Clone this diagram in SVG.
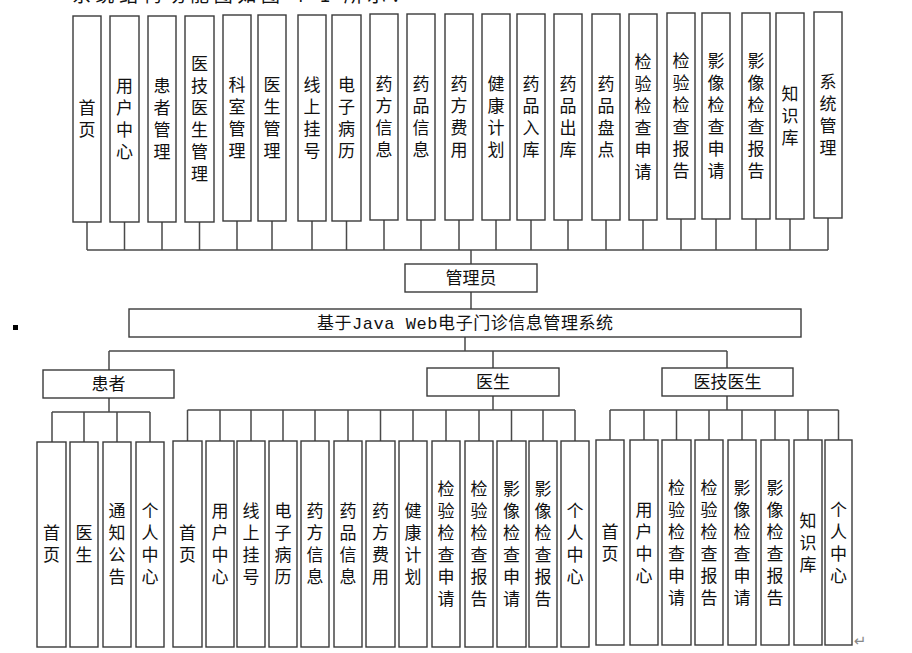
<svg xmlns="http://www.w3.org/2000/svg" width="912" height="653" viewBox="0 0 912 653">
<style>
.b{fill:#fff;stroke:#3a3a3a;stroke-width:1.4}
.c{fill:none;stroke:#4a4a4a;stroke-width:1.5}
.v{font-family:"Noto Sans CJK SC","Noto Sans",sans-serif;font-size:17px;fill:#111;text-anchor:middle}
.h{font-family:"Noto Sans CJK SC","Noto Sans",sans-serif;font-size:17px;fill:#111;text-anchor:middle}
</style>
<rect width="912" height="653" fill="#fff"/>
<text x="72" y="2" font-family="'Noto Sans CJK SC',sans-serif" font-size="19" fill="#111" textLength="338" lengthAdjust="spacing">系统结构功能图如图 4-1 所示：</text>
<rect x="13" y="325" width="5" height="5" fill="#000"/>
<text x="860" y="646" font-family="'DejaVu Sans',sans-serif" font-size="15" fill="#888" text-anchor="middle">↵</text>

<g id="connectors">
<path class="c" d="M87 222V250M124.5 222V250M162 222V250M199.5 222V250M237 221V250M272 221V250M312 221V250M346.5 221V250M384 220V250M421 220V250M459 220V250M496 220V250M531 220V250M568 220V250M606 220V250M643 220V250M681 219V250M716 219V250M756 219V250M790 219V250M828 218V250"/>
<path class="c" d="M87 250H828M471 250V264M471 292V309M465 337V351M109 351H727M109 351V370M493 351V368M727 351V368"/>
<path class="c" d="M109 398V412M52 412H150M52 412V442M84 412V442M117 412V442M150 412V442"/>
<path class="c" d="M493 396V410M187.5 410H575M187.5 410V441M220 410V441M251 410V441M283 410V441M315 410V441M348 410V441M380.5 410V441M413 410V441M446 410V441M479 410V441M511.5 410V441M543 410V441M575 410V441"/>
<path class="c" d="M727 396V410M610 410H838.5M610 410V440M644 410V440M676.5 410V440M709 410V440M742 410V440M775 410V440M808 410V440M838.5 410V440"/>
</g>

<g id="admin"><rect class="b" x="405" y="264" width="132" height="28"/><text class="h" x="471" y="284">管理员</text></g>
<g id="system"><rect class="b" x="129" y="309" width="672" height="28"/><text class="h" x="465" y="329" textLength="296" lengthAdjust="spacing">基于<tspan font-family="'Liberation Mono',monospace">Java Web</tspan>电子门诊信息管理系统</text></g>
<g id="patient"><rect class="b" x="43" y="370" width="131" height="28"/><text class="h" x="108.5" y="390">患者</text></g>
<g id="doctor"><rect class="b" x="427" y="368" width="132" height="28"/><text class="h" x="493" y="388">医生</text></g>
<g id="techdoctor"><rect class="b" x="662" y="368" width="131" height="28"/><text class="h" x="727.5" y="388">医技医生</text></g>

<!-- top row: admin functions -->
<g id="a1"><rect class="b" x="73" y="16" width="28" height="206"/><text class="v" x="87" y="114">首<tspan x="87" dy="22">页</tspan></text></g>
<g id="a2"><rect class="b" x="110" y="16" width="29" height="206"/><text class="v" x="124.5" y="92">用<tspan x="124.5" dy="22">户</tspan><tspan x="124.5" dy="22">中</tspan><tspan x="124.5" dy="22">心</tspan></text></g>
<g id="a3"><rect class="b" x="148" y="16" width="28" height="206"/><text class="v" x="162" y="92">患<tspan x="162" dy="22">者</tspan><tspan x="162" dy="22">管</tspan><tspan x="162" dy="22">理</tspan></text></g>
<g id="a4"><rect class="b" x="185" y="16" width="29" height="206"/><text class="v" x="199.5" y="70">医<tspan x="199.5" dy="22">技</tspan><tspan x="199.5" dy="22">医</tspan><tspan x="199.5" dy="22">生</tspan><tspan x="199.5" dy="22">管</tspan><tspan x="199.5" dy="22">理</tspan></text></g>
<g id="a5"><rect class="b" x="223" y="15" width="28" height="206"/><text class="v" x="237" y="91">科<tspan x="237" dy="22">室</tspan><tspan x="237" dy="22">管</tspan><tspan x="237" dy="22">理</tspan></text></g>
<g id="a6"><rect class="b" x="258" y="15" width="28" height="206"/><text class="v" x="272" y="91">医<tspan x="272" dy="22">生</tspan><tspan x="272" dy="22">管</tspan><tspan x="272" dy="22">理</tspan></text></g>
<g id="a7"><rect class="b" x="298" y="15" width="28" height="206"/><text class="v" x="312" y="91">线<tspan x="312" dy="22">上</tspan><tspan x="312" dy="22">挂</tspan><tspan x="312" dy="22">号</tspan></text></g>
<g id="a8"><rect class="b" x="332" y="15" width="29" height="206"/><text class="v" x="346.5" y="91">电<tspan x="346.5" dy="22">子</tspan><tspan x="346.5" dy="22">病</tspan><tspan x="346.5" dy="22">历</tspan></text></g>
<g id="a9"><rect class="b" x="370" y="14" width="28" height="206"/><text class="v" x="384" y="90">药<tspan x="384" dy="22">方</tspan><tspan x="384" dy="22">信</tspan><tspan x="384" dy="22">息</tspan></text></g>
<g id="a10"><rect class="b" x="407" y="14" width="28" height="206"/><text class="v" x="421" y="90">药<tspan x="421" dy="22">品</tspan><tspan x="421" dy="22">信</tspan><tspan x="421" dy="22">息</tspan></text></g>
<g id="a11"><rect class="b" x="445" y="14" width="28" height="206"/><text class="v" x="459" y="90">药<tspan x="459" dy="22">方</tspan><tspan x="459" dy="22">费</tspan><tspan x="459" dy="22">用</tspan></text></g>
<g id="a12"><rect class="b" x="482" y="14" width="28" height="206"/><text class="v" x="496" y="90">健<tspan x="496" dy="22">康</tspan><tspan x="496" dy="22">计</tspan><tspan x="496" dy="22">划</tspan></text></g>
<g id="a13"><rect class="b" x="517" y="14" width="28" height="206"/><text class="v" x="531" y="90">药<tspan x="531" dy="22">品</tspan><tspan x="531" dy="22">入</tspan><tspan x="531" dy="22">库</tspan></text></g>
<g id="a14"><rect class="b" x="554" y="14" width="28" height="206"/><text class="v" x="568" y="90">药<tspan x="568" dy="22">品</tspan><tspan x="568" dy="22">出</tspan><tspan x="568" dy="22">库</tspan></text></g>
<g id="a15"><rect class="b" x="592" y="14" width="28" height="206"/><text class="v" x="606" y="90">药<tspan x="606" dy="22">品</tspan><tspan x="606" dy="22">盘</tspan><tspan x="606" dy="22">点</tspan></text></g>
<g id="a16"><rect class="b" x="629" y="14" width="28" height="206"/><text class="v" x="643" y="68">检<tspan x="643" dy="22">验</tspan><tspan x="643" dy="22">检</tspan><tspan x="643" dy="22">查</tspan><tspan x="643" dy="22">申</tspan><tspan x="643" dy="22">请</tspan></text></g>
<g id="a17"><rect class="b" x="667" y="13" width="28" height="206"/><text class="v" x="681" y="67">检<tspan x="681" dy="22">验</tspan><tspan x="681" dy="22">检</tspan><tspan x="681" dy="22">查</tspan><tspan x="681" dy="22">报</tspan><tspan x="681" dy="22">告</tspan></text></g>
<g id="a18"><rect class="b" x="702" y="13" width="28" height="206"/><text class="v" x="716" y="67">影<tspan x="716" dy="22">像</tspan><tspan x="716" dy="22">检</tspan><tspan x="716" dy="22">查</tspan><tspan x="716" dy="22">申</tspan><tspan x="716" dy="22">请</tspan></text></g>
<g id="a19"><rect class="b" x="742" y="13" width="28" height="206"/><text class="v" x="756" y="67">影<tspan x="756" dy="22">像</tspan><tspan x="756" dy="22">检</tspan><tspan x="756" dy="22">查</tspan><tspan x="756" dy="22">报</tspan><tspan x="756" dy="22">告</tspan></text></g>
<g id="a20"><rect class="b" x="776" y="13" width="28" height="206"/><text class="v" x="790" y="100">知<tspan x="790" dy="22">识</tspan><tspan x="790" dy="22">库</tspan></text></g>
<g id="a21"><rect class="b" x="814" y="12" width="28" height="206"/><text class="v" x="828" y="88">系<tspan x="828" dy="22">统</tspan><tspan x="828" dy="22">管</tspan><tspan x="828" dy="22">理</tspan></text></g>

<!-- patient functions -->
<g id="p1"><rect class="b" x="37" y="442" width="29" height="205"/><text class="v" x="51.5" y="539">首<tspan x="51.5" dy="22">页</tspan></text></g>
<g id="p2"><rect class="b" x="70" y="442" width="28" height="205"/><text class="v" x="84" y="539">医<tspan x="84" dy="22">生</tspan></text></g>
<g id="p3"><rect class="b" x="103" y="442" width="28" height="205"/><text class="v" x="117" y="517">通<tspan x="117" dy="22">知</tspan><tspan x="117" dy="22">公</tspan><tspan x="117" dy="22">告</tspan></text></g>
<g id="p4"><rect class="b" x="136" y="442" width="28" height="205"/><text class="v" x="150" y="517">个<tspan x="150" dy="22">人</tspan><tspan x="150" dy="22">中</tspan><tspan x="150" dy="22">心</tspan></text></g>

<!-- doctor functions -->
<g id="d1"><rect class="b" x="173" y="441" width="29" height="206"/><text class="v" x="187.5" y="539">首<tspan x="187.5" dy="22">页</tspan></text></g>
<g id="d2"><rect class="b" x="206" y="441" width="28" height="206"/><text class="v" x="220" y="517">用<tspan x="220" dy="22">户</tspan><tspan x="220" dy="22">中</tspan><tspan x="220" dy="22">心</tspan></text></g>
<g id="d3"><rect class="b" x="237" y="441" width="28" height="206"/><text class="v" x="251" y="517">线<tspan x="251" dy="22">上</tspan><tspan x="251" dy="22">挂</tspan><tspan x="251" dy="22">号</tspan></text></g>
<g id="d4"><rect class="b" x="269" y="441" width="28" height="206"/><text class="v" x="283" y="517">电<tspan x="283" dy="22">子</tspan><tspan x="283" dy="22">病</tspan><tspan x="283" dy="22">历</tspan></text></g>
<g id="d5"><rect class="b" x="301" y="441" width="28" height="206"/><text class="v" x="315" y="517">药<tspan x="315" dy="22">方</tspan><tspan x="315" dy="22">信</tspan><tspan x="315" dy="22">息</tspan></text></g>
<g id="d6"><rect class="b" x="334" y="441" width="28" height="206"/><text class="v" x="348" y="517">药<tspan x="348" dy="22">品</tspan><tspan x="348" dy="22">信</tspan><tspan x="348" dy="22">息</tspan></text></g>
<g id="d7"><rect class="b" x="366" y="441" width="29" height="206"/><text class="v" x="380.5" y="517">药<tspan x="380.5" dy="22">方</tspan><tspan x="380.5" dy="22">费</tspan><tspan x="380.5" dy="22">用</tspan></text></g>
<g id="d8"><rect class="b" x="399" y="441" width="28" height="206"/><text class="v" x="413" y="517">健<tspan x="413" dy="22">康</tspan><tspan x="413" dy="22">计</tspan><tspan x="413" dy="22">划</tspan></text></g>
<g id="d9"><rect class="b" x="432" y="441" width="28" height="206"/><text class="v" x="446" y="495">检<tspan x="446" dy="22">验</tspan><tspan x="446" dy="22">检</tspan><tspan x="446" dy="22">查</tspan><tspan x="446" dy="22">申</tspan><tspan x="446" dy="22">请</tspan></text></g>
<g id="d10"><rect class="b" x="465" y="441" width="28" height="206"/><text class="v" x="479" y="495">检<tspan x="479" dy="22">验</tspan><tspan x="479" dy="22">检</tspan><tspan x="479" dy="22">查</tspan><tspan x="479" dy="22">报</tspan><tspan x="479" dy="22">告</tspan></text></g>
<g id="d11"><rect class="b" x="497" y="441" width="29" height="206"/><text class="v" x="511.5" y="495">影<tspan x="511.5" dy="22">像</tspan><tspan x="511.5" dy="22">检</tspan><tspan x="511.5" dy="22">查</tspan><tspan x="511.5" dy="22">申</tspan><tspan x="511.5" dy="22">请</tspan></text></g>
<g id="d12"><rect class="b" x="529" y="441" width="28" height="206"/><text class="v" x="543" y="495">影<tspan x="543" dy="22">像</tspan><tspan x="543" dy="22">检</tspan><tspan x="543" dy="22">查</tspan><tspan x="543" dy="22">报</tspan><tspan x="543" dy="22">告</tspan></text></g>
<g id="d13"><rect class="b" x="561" y="441" width="28" height="206"/><text class="v" x="575" y="517">个<tspan x="575" dy="22">人</tspan><tspan x="575" dy="22">中</tspan><tspan x="575" dy="22">心</tspan></text></g>

<!-- medical technician functions -->
<g id="t1"><rect class="b" x="596" y="440" width="28" height="205"/><text class="v" x="610" y="538">首<tspan x="610" dy="22">页</tspan></text></g>
<g id="t2"><rect class="b" x="630" y="440" width="28" height="205"/><text class="v" x="644" y="516">用<tspan x="644" dy="22">户</tspan><tspan x="644" dy="22">中</tspan><tspan x="644" dy="22">心</tspan></text></g>
<g id="t3"><rect class="b" x="662" y="440" width="29" height="205"/><text class="v" x="676.5" y="494">检<tspan x="676.5" dy="22">验</tspan><tspan x="676.5" dy="22">检</tspan><tspan x="676.5" dy="22">查</tspan><tspan x="676.5" dy="22">申</tspan><tspan x="676.5" dy="22">请</tspan></text></g>
<g id="t4"><rect class="b" x="695" y="440" width="28" height="205"/><text class="v" x="709" y="494">检<tspan x="709" dy="22">验</tspan><tspan x="709" dy="22">检</tspan><tspan x="709" dy="22">查</tspan><tspan x="709" dy="22">报</tspan><tspan x="709" dy="22">告</tspan></text></g>
<g id="t5"><rect class="b" x="728" y="440" width="28" height="205"/><text class="v" x="742" y="494">影<tspan x="742" dy="22">像</tspan><tspan x="742" dy="22">检</tspan><tspan x="742" dy="22">查</tspan><tspan x="742" dy="22">申</tspan><tspan x="742" dy="22">请</tspan></text></g>
<g id="t6"><rect class="b" x="761" y="440" width="28" height="205"/><text class="v" x="775" y="494">影<tspan x="775" dy="22">像</tspan><tspan x="775" dy="22">检</tspan><tspan x="775" dy="22">查</tspan><tspan x="775" dy="22">报</tspan><tspan x="775" dy="22">告</tspan></text></g>
<g id="t7"><rect class="b" x="794" y="440" width="28" height="205"/><text class="v" x="808" y="527">知<tspan x="808" dy="22">识</tspan><tspan x="808" dy="22">库</tspan></text></g>
<g id="t8"><rect class="b" x="825" y="440" width="27" height="205"/><text class="v" x="838.5" y="516">个<tspan x="838.5" dy="22">人</tspan><tspan x="838.5" dy="22">中</tspan><tspan x="838.5" dy="22">心</tspan></text></g>
</svg>
